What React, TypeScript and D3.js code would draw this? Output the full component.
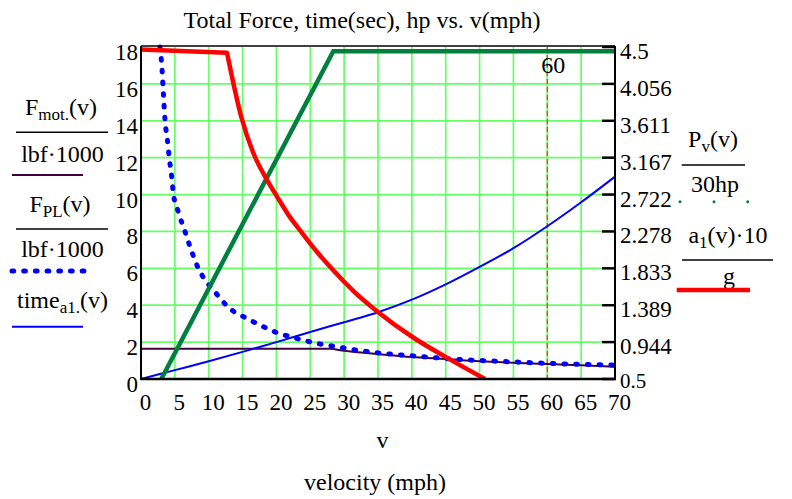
import * as d3 from 'd3';

// axis ticks
const vTicks = [0, 5, 10, 15, 20, 25, 30, 35, 40, 45, 50, 55, 60, 65, 70];
const leftTicks = [0, 2, 4, 6, 8, 10, 12, 14, 16, 18];
const rightTickLabels = ['0.5', '0.944', '1.389', '1.833', '2.278', '2.722', '3.167', '3.611', '4.056', '4.5'];
const markerV = 60;

// F_mot.(v) / (lbf*1000)  -- left axis
const motV = [0, 5, 10, 15, 20, 25, 27.9, 30, 35, 40, 45, 50, 55, 60, 65, 70];
const motF = [1.64, 1.64, 1.64, 1.64, 1.64, 1.64, 1.64, 1.53, 1.35, 1.19, 1.08, 0.96, 0.88, 0.81, 0.74, 0.67];

// F_PL(v) / (lbf*1000)  -- left axis
const plV = [2.8, 3.05, 3.3, 3.55, 3.9, 4.18, 4.53, 4.77, 5.5, 6.5, 7.5, 8.47, 9.45, 10.9, 11.9, 13.1, 15.6, 18.6, 20.3, 22, 24, 25.45, 28.9, 32.3, 35.8, 39.2, 42.7, 46.1, 49.6, 52.8, 59.9, 70];
const plF = [18, 17.1, 15.5, 14.0, 12.96, 11.97, 10.97, 10.07, 9.07, 7.99, 6.9, 6.0, 5.37, 4.73, 4.28, 3.83, 3.29, 2.75, 2.48, 2.3, 2.1, 1.97, 1.75, 1.54, 1.39, 1.28, 1.18, 1.08, 1.01, 0.96, 0.85, 0.75];

// time_a1.(v)  -- left axis
const timeV = [0, 5, 10, 15, 20, 25, 30, 35, 40, 45, 50, 55, 60, 65, 70];
const timeT = [0, 0.48, 0.96, 1.47, 2.0, 2.55, 3.08, 3.62, 4.3, 5.13, 6.08, 7.09, 8.28, 9.58, 10.97];

// P_v(v) / 30hp  -- right axis
const powV = [3.0, 28.4, 70];
const powP = [0.5, 4.45, 4.45];

// a1(v)*10 / g  -- right axis (first two points: flat part before the knee)
const accV = [0, 12.7, 14.8, 16.6, 18.6, 20.0, 22.0, 23.5, 26.0, 28.4, 31.5, 34.8, 40.2, 45.1, 50.8];
const accA = [4.47, 4.43, 3.66, 3.22, 2.9, 2.71, 2.45, 2.29, 2.03, 1.81, 1.55, 1.32, 1.0, 0.76, 0.5];

const FONT = '"Liberation Serif", "Times New Roman", serif';

export default function App() {
  const W = 792;
  const H = 499;
  const plot = { left: 141, right: 615, top: 47, bottom: 379 };

  const x = d3.scaleLinear().domain([0, 70]).range([plot.left, plot.right]);
  const yL = d3.scaleLinear().domain([0, 18]).range([plot.bottom, plot.top]);
  const yR = d3.scaleLinear().domain([0.5, 4.5]).range([plot.bottom, plot.top]);

  const lineL = (vs: number[], ys: number[]) =>
    d3.line<number>().x((_, i) => x(vs[i])).y(d => yL(d)).curve(d3.curveMonotoneX)(ys) ?? '';
  const lineR = (vs: number[], ys: number[], curve: d3.CurveFactory = d3.curveMonotoneX) =>
    d3.line<number>().x((_, i) => x(vs[i])).y(d => yR(d)).curve(curve)(ys) ?? '';

  const accFlat = lineR(accV.slice(0, 2), accA.slice(0, 2), d3.curveLinear);
  const accDrop = lineR(accV.slice(1), accA.slice(1));

  const grid = '#66ff66';

  return (
    <svg width={W} height={H} viewBox={`0 0 ${W} ${H}`}
      style={{ position: 'absolute', left: 0, top: 0, background: '#fff' }}
      fontFamily={FONT}>
      <defs>
        <clipPath id="plotClip">
          <rect x={plot.left} y={plot.top - 4} width={plot.right - plot.left} height={plot.bottom - plot.top + 4} />
        </clipPath>
      </defs>

      <text x={362} y={27.7} fontSize={24} textAnchor="middle">Total Force, time(sec), hp vs. v(mph)</text>

      {/* grid */}
      <g stroke={grid} strokeWidth={1.7}>
        {vTicks.slice(1, -1).map(v => (
          <line key={'gv' + v} x1={x(v)} x2={x(v)} y1={plot.top} y2={plot.bottom} />
        ))}
        {leftTicks.slice(1, -1).map(t => (
          <line key={'gh' + t} x1={plot.left} x2={plot.right} y1={yL(t)} y2={yL(t)} />
        ))}
      </g>

      {/* marker at 60 */}
      <line x1={x(markerV)} x2={x(markerV)} y1={plot.top} y2={plot.bottom}
        stroke="#dd5522" strokeWidth={1.5} strokeDasharray="5 3" />
      <text x={x(markerV) - 6} y={73.3} fontSize={24}>{markerV}</text>

      {/* traces */}
      <g clipPath="url(#plotClip)" fill="none">
        <path d={lineL(motV, motF)} stroke="#400040" strokeWidth={2} />
        <path d={lineL(plV, plF)} stroke="#0000ff" strokeWidth={5} strokeDasharray="1.7 10" strokeLinecap="round" />
        <path d={lineL(timeV, timeT)} stroke="#0000ff" strokeWidth={2} />
        <path d={lineR(powV, powP, d3.curveLinear)} stroke="#007f3f" strokeWidth={4.5} />
        <path d={accFlat + accDrop.replace(/^M/, 'L')} stroke="#ff0000" strokeWidth={4.5} strokeLinejoin="round" />
      </g>

      {/* frame */}
      <line x1={plot.left} x2={plot.right} y1={plot.top - 1} y2={plot.top - 1} stroke="#000" strokeWidth={1.5} />
      <line x1={plot.left} x2={plot.left} y1={plot.top - 1} y2={plot.bottom + 1} stroke="#000" strokeWidth={2} />
      <line x1={plot.right} x2={plot.right} y1={plot.top - 1} y2={plot.bottom + 1} stroke="#000" strokeWidth={2} />
      <line x1={plot.left} x2={plot.right + 1} y1={plot.bottom} y2={plot.bottom} stroke="#000" strokeWidth={2.5} />
      {rightTickLabels.map((_, i) => (
        <line key={'rt' + i} x1={plot.right - 13} x2={plot.right} y1={yL(leftTicks[i])} y2={yL(leftTicks[i])}
          stroke="#000" strokeWidth={2.5} />
      ))}

      {/* tick labels */}
      <g fontSize={23}>
        {leftTicks.map(t => (
          <text key={'lt' + t} x={138} y={yL(t) + 13} textAnchor="end">{t}</text>
        ))}
        {rightTickLabels.map((s, i) => (
          <text key={'rl' + i} x={620} y={yR(0.5 + (i * 4) / 9) + (i === 0 ? 9 : 12)} fontSize={i === 0 ? 21 : 23}>{s}</text>
        ))}
        {vTicks.map(v => (
          <text key={'bt' + v} x={x(v) + 4.5} y={410} textAnchor="middle">{v}</text>
        ))}
      </g>

      <text x={382.5} y={448.3} fontSize={24} textAnchor="middle">v</text>
      <text x={375} y={490} fontSize={24} textAnchor="middle">velocity (mph)</text>

      {/* left legend */}
      <g fontSize={24}>
        <text x={61} y={115} textAnchor="middle">F<tspan fontSize={17} dy={5}>mot.</tspan><tspan dy={-5}>(v)</tspan></text>
        <line x1={16} x2={108} y1={132.3} y2={132.3} stroke="#000" strokeWidth={1.5} />
        <text x={62.5} y={161.7} textAnchor="middle">lbf·1000</text>
        <line x1={12} x2={83} y1={175} y2={175} stroke="#400040" strokeWidth={2} />

        <text x={60} y={211.7} textAnchor="middle">F<tspan fontSize={17} dy={5}>PL</tspan><tspan dy={-5}>(v)</tspan></text>
        <line x1={16} x2={108} y1={229} y2={229} stroke="#000" strokeWidth={1.5} />
        <text x={62.5} y={256.7} textAnchor="middle">lbf·1000</text>
        <line x1={12} x2={84} y1={271} y2={271} stroke="#0000ff" strokeWidth={5} strokeDasharray="1.7 10" strokeLinecap="round" />

        <text x={17} y={308.3}>time<tspan fontSize={17} dy={5}>a1.</tspan><tspan dy={-5}>(v)</tspan></text>
        <line x1={12} x2={83} y1={326.7} y2={326.7} stroke="#0000ff" strokeWidth={2} />
      </g>

      {/* right legend */}
      <g fontSize={24}>
        <text x={713} y={146.7} textAnchor="middle">P<tspan fontSize={17} dy={5}>v</tspan><tspan dy={-5}>(v)</tspan></text>
        <line x1={681.7} x2={745} y1={165} y2={165} stroke="#000" strokeWidth={1.5} />
        <text x={715} y={191.7} textAnchor="middle">30hp</text>
        {[680, 714, 747.7].map(cx => (
          <circle key={'pd' + cx} cx={cx} cy={201.7} r={1.5} fill="#007f3f" />
        ))}

        <text x={728} y={243.3} textAnchor="middle">a<tspan fontSize={17} dy={5}>1</tspan><tspan dy={-5}>(v)·10</tspan></text>
        <line x1={682} x2={773} y1={260} y2={260} stroke="#000" strokeWidth={1.5} />
        <text x={729} y={284} textAnchor="middle">g</text>
        <line x1={676.7} x2={750} y1={290} y2={290} stroke="#ff0000" strokeWidth={4.5} />
      </g>
    </svg>
  );
}
